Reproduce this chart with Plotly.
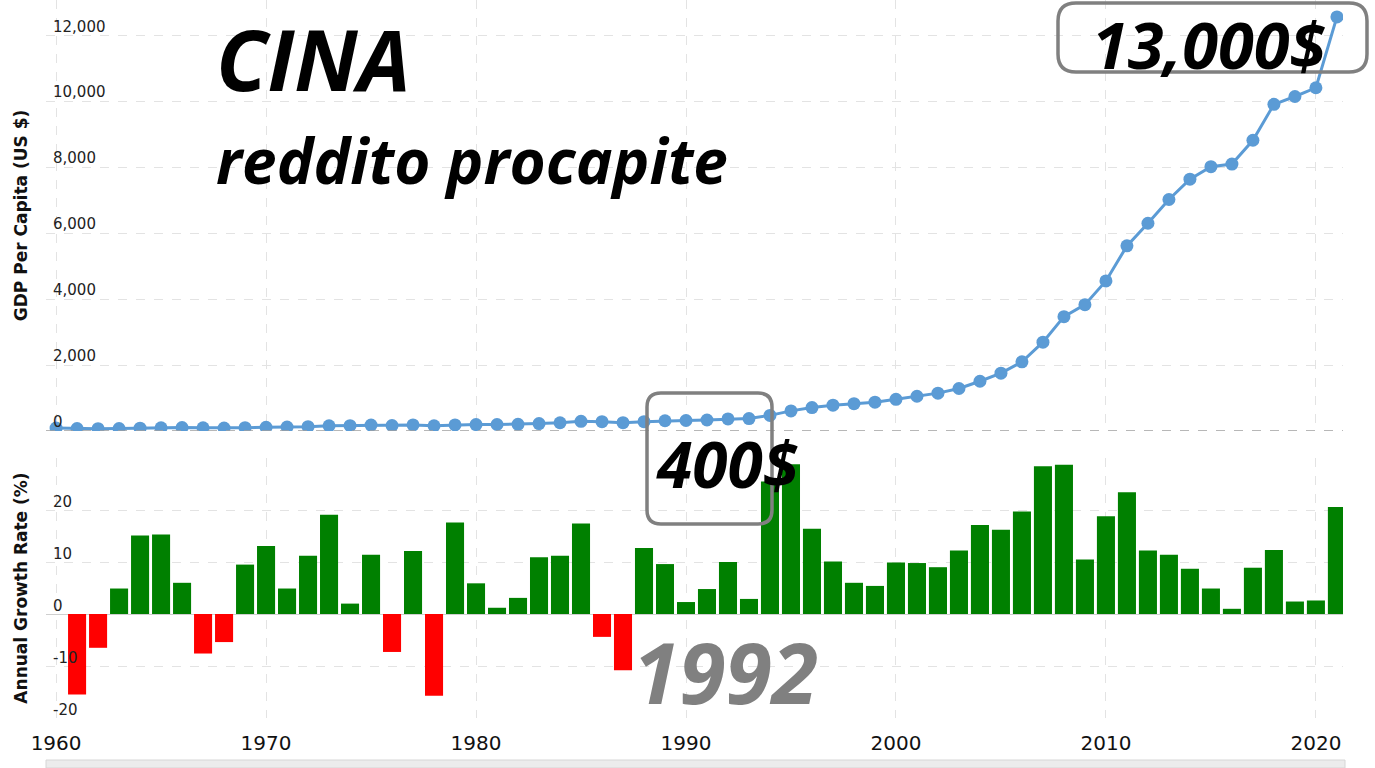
import plotly.graph_objects as go
from plotly.subplots import make_subplots

# --- dati: Cina, PIL pro capite (US $) e tasso di crescita annuo (%) ---
years = list(range(1960, 2022))
gdp_per_capita = [
    89.5, 75.8, 70.9, 74.3, 85.5, 98.5, 104.3, 96.6, 91.5, 100.1,
    113.2, 118.7, 131.9, 157.1, 160.1, 178.3, 165.4, 185.4, 156.4, 183.9,
    194.8, 197.1, 203.3, 225.4, 250.7, 294.5, 281.9, 251.8, 283.5, 310.9,
    317.9, 333.1, 366.5, 377.4, 473.5, 609.7, 709.4, 781.7, 828.6, 873.3,
    959.4, 1053.1, 1148.5, 1288.6, 1508.7, 1753.4, 2099.2, 2693.9, 3468.3, 3832.2,
    4550.5, 5614.4, 6300.6, 7020.4, 7636.1, 8016.4, 8094.4, 8817.0, 9905.3, 10143.9,
    10408.7, 12556.3,
]
growth_years = list(range(1961, 2022))
growth_rate = [
    -15.5, -6.5, 4.9, 15.1, 15.3, 6.0, -7.6, -5.4, 9.5, 13.1,
    4.9, 11.2, 19.1, 2.0, 11.4, -7.3, 12.1, -15.7, 17.6, 5.9,
    1.2, 3.1, 10.9, 11.2, 17.4, -4.4, -10.8, 12.7, 9.6, 2.3,
    4.8, 10.0, 2.9, 25.5, 28.8, 16.4, 10.1, 6.0, 5.4, 9.9,
    9.8, 9.0, 12.2, 17.1, 16.2, 19.7, 28.4, 28.7, 10.5, 18.8,
    23.4, 12.2, 11.4, 8.7, 4.9, 1.0, 8.9, 12.3, 2.4, 2.6,
    20.6,
]
gdp_ticks = [0, 2000, 4000, 6000, 8000, 10000, 12000]
growth_ticks = [-20, -10, 0, 10, 20, 30]
growth_ticktext = ["-20", "-10", "0", "10", "20", ""]
year_ticks = [1960, 1970, 1980, 1990, 2000, 2010, 2020]

# --- geometria della pagina (pixel) ---
W, H = 1375, 768
ML, MR, MT, MB = 46, 32, 0, 50
PW = W - ML - MR
PH = H - MT - MB


def px(x):
    return (x - ML) / PW


def py(y):
    return (H - MB - y) / PH


def rounded_box(x0, y0, x1, y1, r):
    pts = [
        ("M", [(x0 + r, y0)]), ("L", [(x1 - r, y0)]), ("Q", [(x1, y0), (x1, y0 + r)]),
        ("L", [(x1, y1 - r)]), ("Q", [(x1, y1), (x1 - r, y1)]),
        ("L", [(x0 + r, y1)]), ("Q", [(x0, y1), (x0, y1 - r)]),
        ("L", [(x0, y0 + r)]), ("Q", [(x0, y0), (x0 + r, y0)]),
    ]
    path = ""
    for cmd, coords in pts:
        path += cmd + " " + " ".join(f"{px(a):.5f},{py(b):.5f}" for a, b in coords) + " "
    return path + "Z"


fig = make_subplots(rows=2, cols=1, shared_xaxes=True)

fig.add_trace(go.Scatter(
    x=years, y=gdp_per_capita, mode="lines+markers",
    line=dict(color="#5b9bd5", width=3),
    marker=dict(color="#5b9bd5", size=13),
    showlegend=False,
), row=1, col=1)

bar_colors = ["#008000" if v >= 0 else "#ff0000" for v in growth_rate]
fig.add_trace(go.Bar(
    x=growth_years, y=growth_rate, marker=dict(color=bar_colors, line=dict(width=0)),
    showlegend=False,
), row=2, col=1)

grid = dict(showgrid=True, gridcolor="#e3e3e3", griddash="dash", gridwidth=1)
tick_font = dict(family="DejaVu Sans", size=15, color="#222222")
title_font = dict(family="DejaVu Sans", size=17, color="#111111", weight="bold")

fig.update_xaxes(range=[1959.52, 2021.29], tickvals=year_ticks, zeroline=False,
                 showline=False, ticks="", ticklabeloverflow="allow", **grid)
fig.update_xaxes(showticklabels=False, row=1, col=1)
fig.update_xaxes(showticklabels=True, ticklabelstandoff=11,
                 tickfont=dict(family="DejaVu Sans", size=20, color="#111111"),
                 row=2, col=1)

fig.update_yaxes(domain=[py(431), 1.0], range=[0, 13070], tickvals=gdp_ticks, tickformat=",",
                 ticklabelposition="inside", ticklabelshift=-9, ticklabelstandoff=4,
                 ticklabeloverflow="allow",
                 tickfont=tick_font, zeroline=False, showline=False, ticks="",
                 title=dict(text="GDP Per Capita (US $)", font=title_font, standoff=21),
                 automargin=False, row=1, col=1, **grid)
fig.update_yaxes(domain=[0.0, py(458)], range=[-20, 30], tickvals=growth_ticks,
                 ticktext=growth_ticktext,
                 ticklabelposition="inside", ticklabelshift=-8, ticklabelstandoff=4,
                 ticklabeloverflow="allow",
                 tickfont=tick_font, zeroline=True, zerolinecolor="#cfcfcf", zerolinewidth=1,
                 showline=False, ticks="",
                 title=dict(text="Annual Growth Rate (%)", font=title_font, standoff=21),
                 automargin=False, row=2, col=1, **grid)

box_line = dict(color="#808080", width=3.5)
fig.update_layout(
    width=W, height=H,
    margin=dict(l=ML, r=MR, t=MT, b=MB),
    paper_bgcolor="white", plot_bgcolor="white",
    bargap=0.14,
    shapes=[
        dict(type="line", xref="paper", yref="y", x0=0, x1=1, y0=0, y1=0,
             line=dict(color="#a0a0a0", width=1.5, dash="dash")),
        dict(type="rect", xref="paper", yref="paper", x0=px(46), x1=px(1345),
             y0=py(768), y1=py(760), fillcolor="#ececec", line=dict(color="#d6d6d6", width=1),
             layer="below"),
        dict(type="path", xref="paper", yref="paper", path=rounded_box(1058, 3, 1367, 72, 18),
             line=box_line),
        dict(type="path", xref="paper", yref="paper", path=rounded_box(647, 393, 772, 524, 14),
             line=box_line),
    ],
    annotations=[
        dict(text="CINA", x=px(313), y=py(58), xref="paper", yref="paper",
             xanchor="center", yanchor="middle", showarrow=False,
             font=dict(family="Open Sans", size=84, color="black", weight="bold", style="italic")),
        dict(text="reddito procapite", x=px(472), y=py(160), xref="paper", yref="paper",
             xanchor="center", yanchor="middle", showarrow=False,
             font=dict(family="Open Sans", size=62, color="black", weight="bold", style="italic")),
        dict(text="13,000$", x=px(1209), y=py(44), xref="paper", yref="paper",
             xanchor="center", yanchor="middle", showarrow=False,
             font=dict(family="Open Sans", size=65, color="black", weight="bold", style="italic")),
        dict(text="400$", x=px(727), y=py(463), xref="paper", yref="paper",
             xanchor="center", yanchor="middle", showarrow=False,
             font=dict(family="Open Sans", size=64, color="black", weight="bold", style="italic")),
        dict(text="1992", x=px(725), y=py(671), xref="paper", yref="paper",
             xanchor="center", yanchor="middle", showarrow=False,
             font=dict(family="Open Sans", size=84, color="#808080", weight="bold", style="italic")),
    ],
)

fig.write_html("out.html", config={"displayModeBar": False},
               post_script="document.body.style.margin='0';")
